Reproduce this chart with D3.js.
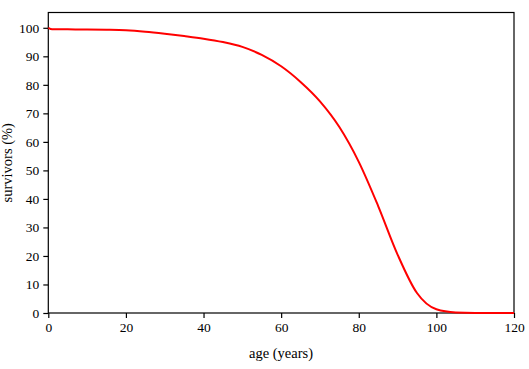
<!DOCTYPE html>
<html><head><meta charset="utf-8">
<script src="https://cdn.jsdelivr.net/npm/d3@7"></script>
<style>body{margin:0;background:#fff}svg{display:block}text{font-family:"Liberation Serif","DejaVu Serif",serif;}</style>
</head><body><svg id="c" width="529" height="369"></svg>
<script>
const ages = [0, 1, 5, 10, 15, 20, 25, 30, 35, 40, 45, 50, 55, 60, 65, 70, 75, 80, 85, 90, 95, 100, 105, 110, 120];
const survivors = [100, 99.5, 99.45, 99.4, 99.3, 99.1, 98.6, 97.9, 97.1, 96.2, 95.0, 93.3, 90.5, 86.5, 81.0, 74.2, 65.2, 53.0, 37.5, 20.5, 7.0, 1.3, 0.2, 0.03, 0];
const xTicks = [0, 20, 40, 60, 80, 100, 120];
const yTicks = [0, 10, 20, 30, 40, 50, 60, 70, 80, 90, 100];

const svg = d3.select("#c");
const L = 48.3, R = 514, T = 12.5, B = 313;
const x = d3.scaleLinear().domain([0, 120]).range([L, R]);
const y = d3.scaleLinear().domain([0, 100]).range([B, 27.8]).clamp(true);

svg.append("rect").attr("x", L).attr("y", T).attr("width", R - L).attr("height", B - T)
  .attr("fill", "none").attr("stroke", "#000").attr("stroke-width", 1.2);

const xa = svg.append("g").attr("transform", `translate(0,${B})`)
  .call(d3.axisBottom(x).tickValues(xTicks).tickSize(5).tickPadding(4).tickFormat(d3.format("d")));
const ya = svg.append("g").attr("transform", `translate(${L},0)`)
  .call(d3.axisLeft(y).tickValues(yTicks).tickSize(5).tickPadding(4).tickFormat(d3.format("d")));
[xa, ya].forEach(a => {
  a.select(".domain").remove();
  a.selectAll("line").attr("stroke", "#000").attr("stroke-width", 1.2);
  a.selectAll("text").attr("font-size", 13.5).attr("fill", "#000");
});

svg.append("path").datum(ages.map((a, i) => [a, survivors[i]]))
  .attr("fill", "none").attr("stroke", "#ff0000").attr("stroke-width", 2)
  .attr("d", d3.line().x(d => x(d[0])).y(d => y(d[1])).curve(d3.curveMonotoneX));

svg.append("text").attr("x", 281).attr("y", 358).attr("text-anchor", "middle")
  .attr("font-size", 14.5).text("age (years)");
svg.append("text").attr("transform", `translate(12,${(T + B) / 2}) rotate(-90)`)
  .attr("text-anchor", "middle").attr("font-size", 14.5).text("survivors (%)");
</script></body></html>
